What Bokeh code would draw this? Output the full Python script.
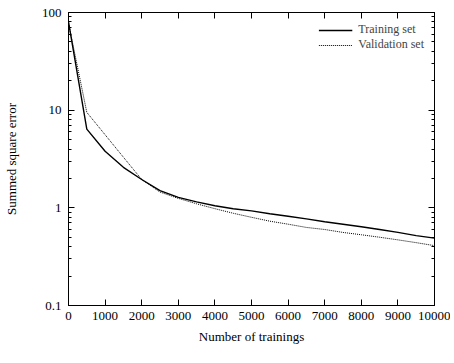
from bokeh.plotting import figure
from bokeh.models import (FixedTicker, CustomJSTickFormatter, LinearAxis, LogAxis,
                          Range1d, Legend, LegendItem)
from bokeh.embed import file_html
from bokeh.resources import INLINE

# ---- data ----
trainings = [0, 500, 1000, 1500, 2000, 2500, 3000, 3500, 4000, 4500, 5000,
             5500, 6000, 6500, 7000, 7500, 8000, 8500, 9000, 9500, 10000]
training_err = [80, 6.4, 3.8, 2.6, 1.95, 1.5, 1.28, 1.15, 1.05, 0.98, 0.93,
                0.87, 0.82, 0.77, 0.72, 0.68, 0.64, 0.60, 0.56, 0.52, 0.49]
validation_err = [78, 9.5, 5.6, 3.3, 1.95, 1.45, 1.25, 1.1, 0.98, 0.88, 0.80,
                  0.73, 0.68, 0.63, 0.60, 0.56, 0.53, 0.50, 0.47, 0.44, 0.41]
x_ticks = [0, 1000, 2000, 3000, 4000, 5000, 6000, 7000, 8000, 9000, 10000]
y_ticks = [0.1, 1, 10, 100]
y_minor = [m * d for d in (0.1, 1, 10) for m in range(2, 10)]

FONT = "Liberation Serif"
FS = "13px"

p = figure(frame_width=366, frame_height=293, output_backend="svg", toolbar_location=None,
           y_axis_type="log", x_range=Range1d(0, 10000), y_range=Range1d(0.1, 100),
           min_border_left=63, min_border_right=16, min_border_top=12, min_border_bottom=42)
p.grid.visible = False
p.outline_line_color = "black"
p.outline_line_width = 1
p.background_fill_color = "white"
p.border_fill_color = "white"

fmt = CustomJSTickFormatter(code="return String(Number(tick.toPrecision(3)));")
blank = CustomJSTickFormatter(code="return '';")


def style(ax, labels=True):
    ax.axis_line_color = "black"
    ax.major_tick_in = 6
    ax.major_tick_out = 0
    ax.minor_tick_in = 3
    ax.minor_tick_out = 0
    ax.major_tick_line_color = "black"
    ax.minor_tick_line_color = "black"
    ax.major_label_text_font = FONT
    ax.major_label_text_font_size = FS if labels else "0px"
    ax.major_label_text_color = "black"
    ax.axis_label_text_font = FONT
    ax.axis_label_text_font_size = FS
    ax.axis_label_text_font_style = "normal"
    ax.axis_label_text_color = "black"


xa = p.xaxis[0]
xa.ticker = FixedTicker(ticks=x_ticks, minor_ticks=[])
xa.formatter = fmt
xa.axis_label = "Number of trainings"
xa.axis_label_standoff = 6
xa.major_label_standoff = 6
style(xa)

ya = p.yaxis[0]
ya.ticker = FixedTicker(ticks=y_ticks, minor_ticks=y_minor)
ya.formatter = fmt
ya.axis_label = "Summed square error"
ya.axis_label_standoff = 20
ya.major_label_standoff = 7
style(ya)

top = LinearAxis(ticker=FixedTicker(ticks=x_ticks, minor_ticks=[]), formatter=blank,
                 major_label_standoff=0)
style(top, labels=False)
p.add_layout(top, "above")
right = LogAxis(ticker=FixedTicker(ticks=y_ticks, minor_ticks=y_minor), formatter=blank,
                major_label_standoff=0)
style(right, labels=False)
p.add_layout(right, "right")

r1 = p.line(trainings, training_err, line_color="black", line_width=1.4)
r2 = p.line(trainings, validation_err, line_color="black", line_width=1.0,
            line_dash="1 1")

legend = Legend(items=[LegendItem(label="Training set", renderers=[r1]),
                       LegendItem(label="Validation set", renderers=[r2])],
                location="top_right", background_fill_alpha=0, border_line_alpha=0,
                label_text_font=FONT, label_text_font_size="12px",
                label_height=10, glyph_height=10, glyph_width=34, spacing=0,
                padding=2, margin=8, label_standoff=6, label_text_line_height=0.9)
p.add_layout(legend)

open("out.html", "w").write(file_html(p, INLINE))
